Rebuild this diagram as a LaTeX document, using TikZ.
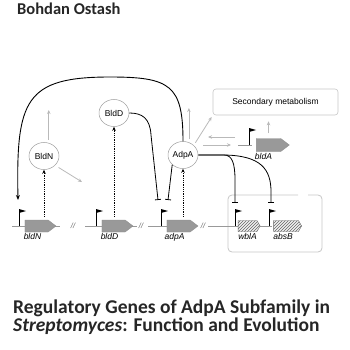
\documentclass[tikz,border=0pt]{standalone}
\usepackage{fontspec}
\setmainfont{Carlito}
\setsansfont{Liberation Sans}
\usepackage{tikz}
\usetikzlibrary{shapes.geometric, shapes.symbols, arrows.meta, positioning, patterns, calc}
\tikzset{
  protein/.style={
    ellipse,
    minimum width=30pt,
    minimum height=27pt,
    inner sep=0pt,
    draw=gray!75,
    line width=0.5pt,
    font=\sffamily\fontsize{8.5}{9}\selectfont
  },
  gene/.style={
    signal, signal to=east, signal pointer angle=74,
    minimum width=31pt, minimum height=12pt, inner sep=0pt,
    draw=gray!90, fill=gray!80, line width=0.4pt
  },
  hatched/.style={
    signal, signal to=east, signal pointer angle=120,
    minimum height=11pt, inner sep=0pt,
    draw=gray!80!black, line width=0.4pt,
    preaction={fill=gray!12}, pattern=north east lines, pattern color=gray!80!black
  },
  genename/.style={font=\sffamily\itshape\fontsize{8.5}{10}\selectfont, inner sep=1pt},
  breakmark/.style={font=\sffamily\itshape\fontsize{7.5}{8}\selectfont, text=gray!80!black, inner sep=0pt},
  title/.style={anchor=base west, inner sep=0pt, font=\bfseries\fontsize{19.5}{18}\selectfont, text=black!85},
  dna/.style={draw=gray!80, line width=0.5pt},
  signalarrow/.style={draw=gray!55, line width=0.8pt, -{Stealth[length=4pt, width=3.5pt]}},
  activate/.style={black, line width=0.9pt, -{Stealth[length=5pt, width=4pt]}},
  inhibit/.style={black, line width=0.8pt, -{Bar[width=6pt]}},
  express/.style={black, line width=0.8pt, densely dotted, -{Stealth[length=4pt, width=3.5pt]}},
  promflag/.pic={
    \draw[black, line width=0.5pt] (0,0) -- (0,-17);
    \fill[black] (0,-17) -- (7,-15) -- (0,-13) -- cycle;
  }
}

\begin{document}
\begin{tikzpicture}[x=1pt, y=-1pt]
\useasboundingbox (0,0) rectangle (350,350);

% Author and title
\node[title, font=\bfseries\fontsize{16.5}{18}\selectfont] (author) at (17,14.5) {Bohdan Ostash};
\node[title] (title1) at (13,313) {Regulatory Genes of AdpA Subfamily in};
\node[title] (title2) at (13,331.5) {\textit{Streptomyces}: Function and Evolution};

% Operon box
\draw[gray!45, line width=0.8pt, rounded corners=4pt] (298,195) -- (228,195) -- (228,252) -- (322,252) -- (322,195) -- (308,195);

% DNA
\draw[dna] (12,226) -- (60,226);
\draw[dna] (85,226) -- (137,226);
\draw[dna] (148,226) -- (196,226);
\draw[dna] (208,226) -- (272,226);
\draw[dna] (238,145) -- (252,145);

% Genes
\node[gene] (bldNg) at (36.5,226) {};
\node[gene] (bldDg) at (113.5,226) {};
\node[gene] (adpAg) at (178.5,226) {};
\node[gene, minimum width=33pt, minimum height=13pt] (bldAg) at (268.5,145) {};
\node[hatched, minimum width=22pt] (wblAg) at (247.5,226) {};
\node[hatched, minimum width=28pt] (absBg) at (286,226) {};

\node[genename, below=0pt of bldNg, xshift=-4pt] (bldNl) {bldN};
\node[genename, below=0pt of bldDg, xshift=-4pt] (bldDl) {bldD};
\node[genename, below=0pt of adpAg, xshift=-4pt] (adpAl) {adpA};
\node[genename, below=0pt of bldAg, xshift=-5pt] (bldAl) {bldA};
\node[genename, below=0pt of wblAg] (wblAl) {wblA};
\node[genename, below=0pt of absBg, xshift=-3pt] (absBl) {absB};

\node[breakmark] (br1) at (73,226) {//};
\node[breakmark] (br2) at (141,226) {//};
\node[breakmark] (br3) at (203,226) {//};

% Promoters
\pic at (19,226) {promflag};
\pic at (96,226) {promflag};
\pic at (161,226) {promflag};
\pic at (249,145) {promflag};
\pic at (235,226) {promflag};
\pic at (269,226) {promflag};

% Proteins
\node[protein] (BldN) at (44,156) {BldN};
\node[protein] (BldD) at (114,113) {BldD};
\node[protein] (AdpA) at (183,155) {AdpA};
\node[draw=gray!45, line width=0.6pt, rounded corners=3pt, minimum width=125pt, minimum height=26pt,
      font=\sffamily\fontsize{8.5}{10}\selectfont] (sec) at (275.5,102) {Secondary metabolism};

% Free ends
\coordinate (bldNup) at (48,110);
\coordinate (bldNout) at (82,182);
\coordinate (adpAup) at (189,108);
\coordinate (toAdpA) at (208,137);
\coordinate (fromBldA) at (235,137);
\coordinate (toBldA) at (231,145);
\coordinate (fromAdpA) at (203,145);
\coordinate (bldNpro) at (18,200);
\coordinate (barD) at (158,200);
\coordinate (barA) at (168,200);
\coordinate (barW) at (235,203);
\coordinate (barB) at (271,203);

% Expression
\draw[express, shorten <=3pt] (bldNg.north -| BldN) -- (BldN);
\draw[express, shorten <=3pt] (bldDg.north -| BldD) -- (BldD);
\draw[express, shorten <=3pt] (adpAg.north -| AdpA) -- (AdpA);

% Grey arrows
\draw[signalarrow, shorten <=3pt] (BldN.70) -- (BldN.70 |- bldNup);
\draw[signalarrow, shorten <=4pt] (BldN.-40) -- (bldNout);
\draw[signalarrow, shorten <=3pt] (AdpA.65) -- (AdpA.65 |- adpAup);
\draw[signalarrow, shorten <=3pt, shorten >=2pt] (AdpA.north east) -- (sec.south west);
\draw[signalarrow] (fromBldA) -- (toAdpA);
\draw[signalarrow] (fromAdpA) -- (toBldA);
\draw[signalarrow, shorten <=5pt, shorten >=6pt] (bldAg.north) -- (bldAg.north |- sec.south);

% Regulation
\draw[activate] (AdpA.north) .. controls (183,85) and (170,77) .. (110,77)
  .. controls (25,77) and (16,100) .. (bldNpro);
\draw[inhibit] (BldD.east) .. controls (142,113) and (150,118) .. (151,135) -- (barD);
\draw[inhibit] (AdpA.south west) -- (barA);
\draw[inhibit] (AdpA.east) -- (224,155) .. controls (232,155) and (235,163) .. (235,180) -- (barW);
\draw[inhibit] (AdpA.east) -- (222,155) .. controls (262,155) and (271,170) .. (271,192) -- (barB);
\end{tikzpicture}
\end{document}
